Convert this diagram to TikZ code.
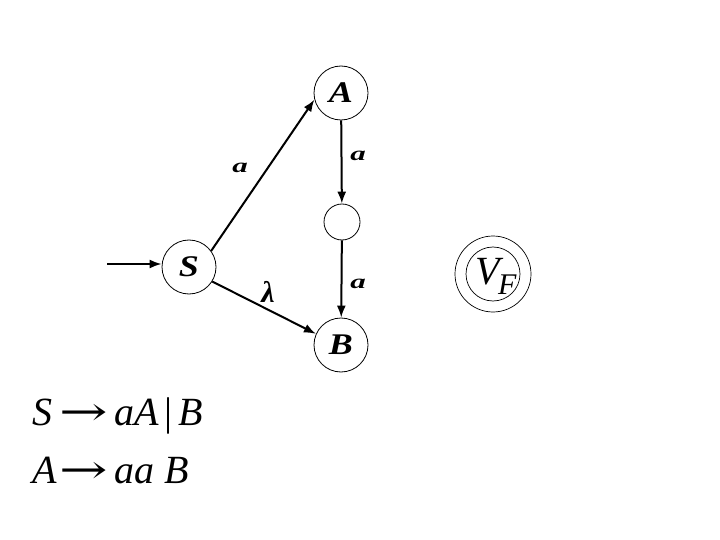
\documentclass[tikz,border=0pt]{standalone}
\usepackage{fontspec}
\setmainfont{Liberation Serif}
\newfontfamily\arrfont{DejaVu Serif}
\usetikzlibrary{arrows.meta}
\newcommand{\myarr}{\makebox[43pt][c]{\scalebox{1.45}[1]{\arrfont\fontsize{40}{40}\selectfont →}}}
\begin{document}
\begin{tikzpicture}[x=1pt,y=-1pt,
  state/.style={circle,draw,line width=0.8pt,minimum size=54pt,inner sep=0pt,
    font=\fontsize{30}{30}\selectfont\bfseries\itshape},
  small/.style={circle,draw,line width=0.8pt,minimum size=36pt,inner sep=0pt},
  edge/.style={line width=2pt,-{Latex[length=12pt,width=9pt]}},
  lab/.style={font=\fontsize{20}{20}\selectfont\bfseries\itshape,inner sep=0pt,xscale=1.55},
  rule/.style={font=\fontsize{40}{40}\selectfont\itshape,inner sep=0pt,anchor=base west}]
\useasboundingbox (0,0) rectangle (720,540);
\node[state] (S) at (189,267) {\scalebox{1.2}[1]{S}};
\node[state] (A) at (341,93) {\scalebox{1.2}[1]{A}};
\node[small] (M) at (342,222) {};
\node[state] (B) at (341,345) {\scalebox{1.2}[1]{B}};
\coordinate (in) at (107,264);
\draw[edge] (in) -- (S.west |- in);
\draw[edge] (S.36) -- (A.194);
\draw[edge] (A) -- (M);
\draw[edge] (M) -- (B);
\draw[edge] (S.-32) -- (B.156);
\node[lab] (la1) at (240,168) {a};
\node[lab] (la2) at (358,156) {a};
\node[lab] (la3) at (358,284) {a};
\node[font=\fontsize{30}{30}\selectfont\bfseries\itshape,inner sep=0pt] (ll) at (268,292) {λ};
\node[circle,draw,line width=0.7pt,minimum size=76pt,inner sep=0pt] (VFo) at (493,274) {};
\node[circle,draw,line width=0.7pt,minimum size=54pt,inner sep=0pt] (VF) at (493,274) {};
\node[font=\fontsize{40}{40}\selectfont\itshape,inner sep=0pt] (VFt) at (496,276) {V\kern-2pt\raisebox{-10pt}{\fontsize{30}{30}\selectfont F}};
\node[rule] (r1) at (32,425) {S\hspace{10pt}\myarr\hspace{9pt}aA\hspace{6pt}\textup{|}\hspace{6pt}B};
\node[rule] (r2) at (32,483) {A\hspace{6pt}\myarr\hspace{9pt}aa B};
\end{tikzpicture}
\end{document}
